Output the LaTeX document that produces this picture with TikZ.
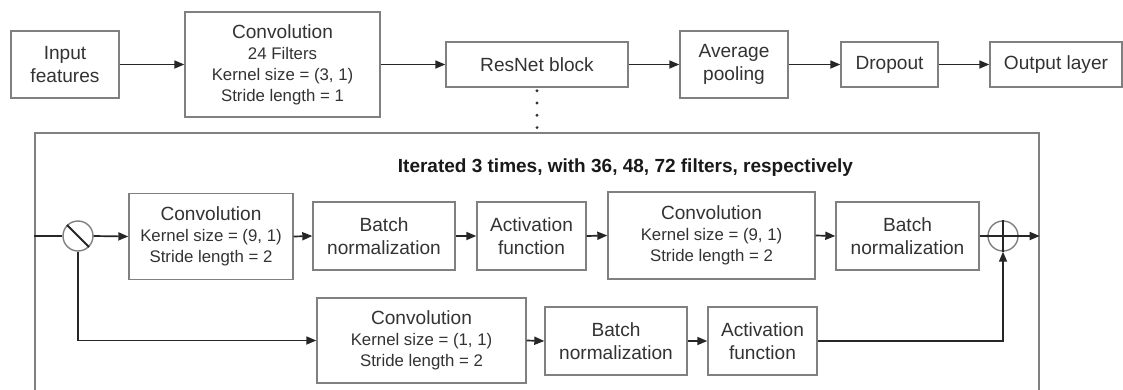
\documentclass[tikz,border=0pt]{standalone}
\usepackage{fontspec}
\setmainfont{Liberation Sans}
\usetikzlibrary{arrows.meta,calc}
\definecolor{bordergray}{HTML}{808080}
\definecolor{textgray}{HTML}{333333}
\newcommand{\mainf}{\fontsize{19.1}{22.5}\selectfont}
\newcommand{\subf}{\fontsize{16.8}{21}\selectfont}
\tikzset{
  box/.style={draw=bordergray, line width=1.4pt, fill=white, text=textgray, align=center, inner sep=0pt, font=\mainf},
  subbox/.style={box, font=\subf},
  conn/.style={line width=1.7pt, draw=black!85},
  arr/.style={conn, -{Triangle[length=10pt,width=8pt]}},
  ring/.style={circle, draw=bordergray, line width=1.4pt, minimum size=30pt, inner sep=0pt, fill=white},
  dotline/.style={line width=3.2pt, draw=black!80, dash pattern=on 0pt off 12.3pt, line cap=round}
}
\begin{document}
\begin{tikzpicture}[x=1pt,y=-1pt]
\clip (0,0) rectangle (1123,389);
\fill[white] (0,0) rectangle (1123,389);
% frame of the ResNet block
\node[draw=bordergray, line width=1.4pt, minimum width=1004pt, minimum height=287pt, inner sep=0pt] (frame) at (537,276.5) {};
\node[font=\bfseries\fontsize{19}{22}\selectfont, text=black!90] (title) at (625.5,168) {Iterated 3 times, with 36, 48, 72 filters, respectively};
% top row
\node[box, minimum width=108pt, minimum height=67pt] (inp) at (65,64.5) {Input\\features};
\node[subbox, minimum width=195pt, minimum height=105pt] (conv0) at (282.5,64.5) {{\mainf Convolution}\\24 Filters\\Kernel size = (3, 1)\\Stride length = 1};
\node[box, minimum width=182pt, minimum height=45pt] (resnet) at (537,64.5) {ResNet block};
\node[box, minimum width=108pt, minimum height=67pt] (avg) at (734,64.5) {Average\\pooling};
\node[box, minimum width=97pt, minimum height=45pt] (drop) at (889.5,64.5) {Dropout};
\node[box, minimum width=132pt, minimum height=45pt] (out) at (1056,64.5) {Output layer};
\draw[arr] (inp.east) -- (conv0.west);
\draw[arr] (conv0.east) -- (resnet.west);
\draw[arr] (resnet.east) -- (avg.west);
\draw[arr] (avg.east) -- (drop.west);
\draw[arr] (drop.east) -- (out.west);
\draw[dotline] ($(resnet.south)+(0,3)$) -- (frame.north);
% second row
\node[ring] (split) at (78,236) {};
\draw[line width=2pt, black!85] (split.north west) -- (split.south east);
\node[subbox, minimum width=164pt, minimum height=86pt] (conv1) at (211,236.5) {{\mainf Convolution}\\Kernel size = (9, 1)\\Stride length = 2};
\node[box, minimum width=142pt, minimum height=68pt] (bn1) at (384,236) {Batch\\normalization};
\node[box, minimum width=109pt, minimum height=68pt] (act1) at (531.5,236) {Activation\\function};
\node[subbox, minimum width=207pt, minimum height=87pt] (conv2) at (711.5,235.5) {{\mainf Convolution}\\Kernel size = (9, 1)\\Stride length = 2};
\node[box, minimum width=143pt, minimum height=68pt] (bn2) at (907.5,236) {Batch\\normalization};
\node[ring] (plus) at (1003,236) {};
\draw[conn] (plus.north) -- (plus.south);
\draw[conn] (bn2.east) -- (plus.west) -- (plus.east);
\draw[conn] (frame.west |- split) -- (split.west);
\draw[arr] (split.east) -- (conv1.west);
\draw[arr] (conv1.east) -- (bn1.west);
\draw[arr] (bn1.east) -- (act1.west);
\draw[arr] (act1.east) -- (conv2.west);
\draw[arr] (conv2.east) -- (bn2.west);
\draw[arr] (plus.east) -- (frame.east |- plus);
% third row
\node[subbox, minimum width=209pt, minimum height=85pt] (conv3) at (421.5,340.5) {{\mainf Convolution}\\Kernel size = (1, 1)\\Stride length = 2};
\node[box, minimum width=142pt, minimum height=68pt] (bn3) at (616,341) {Batch\\normalization};
\node[box, minimum width=109pt, minimum height=68pt] (act3) at (762.5,341) {Activation\\function};
\draw[arr] (split.south) |- (conv3.west);
\draw[arr] (conv3.east) -- (bn3.west);
\draw[arr] (bn3.east) -- (act3.west);
\draw[arr] (act3.east) -| (plus.south);
\end{tikzpicture}
\end{document}
